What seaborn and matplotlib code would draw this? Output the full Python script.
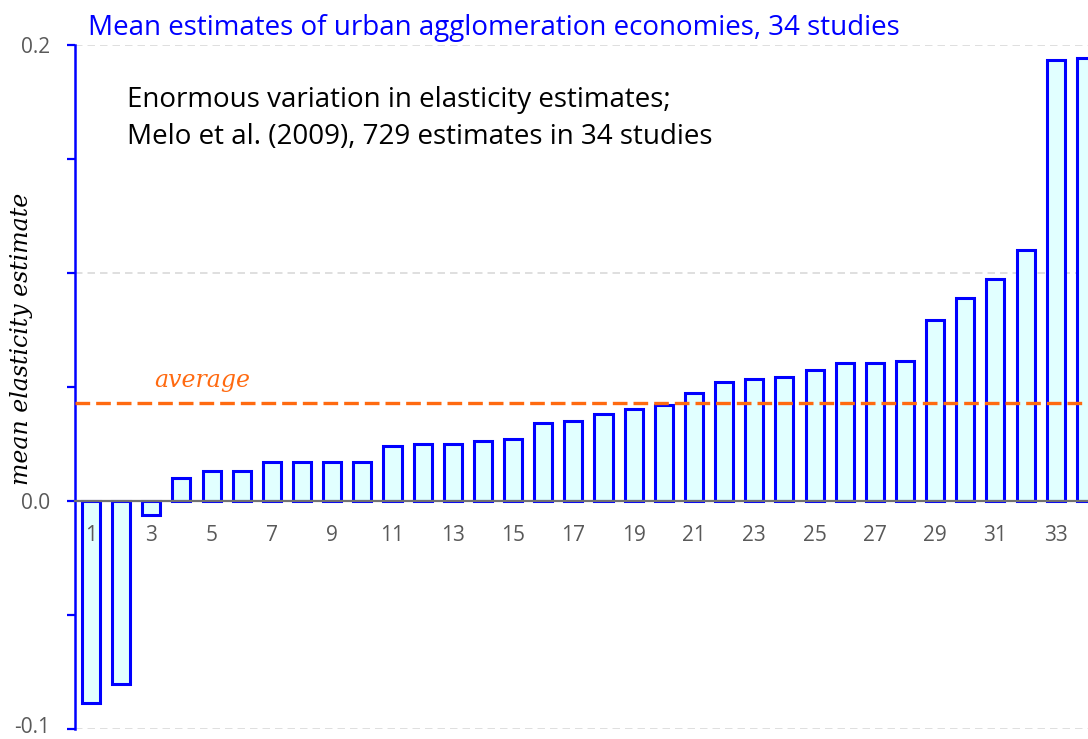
import numpy as np
import pandas as pd
import matplotlib.pyplot as plt
import matplotlib.transforms as mtransforms
import seaborn as sns

sns.set_style("white")
plt.rcParams["font.family"] = ["Open Sans", "DejaVu Sans"]

# mean elasticity estimate per study, sorted
studies = [str(i) for i in range(1, 35)]
estimates = [-0.0887, -0.0804, -0.0063, 0.0103, 0.0132, 0.0132, 0.0173, 0.0173,
             0.0173, 0.0173, 0.0241, 0.0251, 0.0251, 0.0261, 0.0270, 0.0341,
             0.0350, 0.0381, 0.0402, 0.0420, 0.0472, 0.0522, 0.0534, 0.0543,
             0.0573, 0.0604, 0.0604, 0.0613, 0.0794, 0.0892, 0.0972, 0.1101,
             0.1933, 0.1945]
average = 0.0432
ytick_values = [-0.1, 0.0, 0.1, 0.2]
ytick_labels = ["-0.1", "0.0", "", "0.2"]
xtick_labels = [s if int(s) % 2 == 1 else "" for s in studies]

df = pd.DataFrame({"study": studies, "estimate": estimates})

fig = plt.figure(figsize=(10.88, 7.39), dpi=100)
ax = fig.add_axes([75 / 1088, 10 / 739, 1013 / 1088, 684 / 739])

sns.barplot(data=df, x="study", y="estimate", order=studies, color="#E1FFFF",
            saturation=1, edgecolor="#0000FF", linewidth=2.2, width=0.6, ax=ax)
ax.set_axisbelow(False)

ax.set_xlim(-0.53, 33.07)
ax.set_ylim(-0.1, 0.2)

# grid
for v in ytick_values:
    ax.axhline(v, color="#D9D9D9", lw=1.2, ls=(0, (4.5, 3)), zorder=0)

# average line
ax.axhline(average, color="#FF6A10", lw=2.4, ls=(0, (4.4, 1.8)), zorder=5)
ax.text(2.1, average + 0.0095, "average", color="#FF6A10", fontsize=17,
        fontstyle="italic", family="DejaVu Serif", va="center", ha="left")

# spines
for s in ["top", "right"]:
    ax.spines[s].set_visible(False)
ax.spines["left"].set_color("#0000FF")
ax.spines["left"].set_linewidth(1.8)
ax.spines["bottom"].set_position(("data", 0))
ax.spines["bottom"].set_color("#707070")
ax.spines["bottom"].set_linewidth(1.6)
ax.spines["bottom"].set_zorder(6)

ax.set_yticks(ytick_values)
ax.set_yticklabels(ytick_labels)
ax.set_yticks([-0.05, 0.05, 0.15], minor=True)
ax.tick_params(axis="y", which="both", length=6, width=1.6, color="#0000FF",
               left=True, direction="out", labelsize=15, labelcolor="#595959", pad=12)
ax.set_xticks(range(len(studies)))
ax.set_xticklabels(xtick_labels)
ax.tick_params(axis="x", length=0, labelsize=15, labelcolor="#595959", pad=17)

# keep the bottom tick label inside the figure
lbl = ax.get_yticklabels()[0]
lbl.set_transform(lbl.get_transform() + mtransforms.ScaledTranslation(0, 3 / 72, fig.dpi_scale_trans))

ax.set_xlabel("")
ax.set_ylabel("mean elasticity estimate", fontsize=17, fontstyle="italic",
              family="DejaVu Serif", color="black")
ax.yaxis.set_label_coords(-0.041, 0.57)

fig.text(88 / 1088, 1 - 28 / 739, "Mean estimates of urban agglomeration economies, 34 studies",
         color="#0000FF", fontsize=20, va="center", ha="left")
fig.text(127 / 1088, 1 - 100 / 739, "Enormous variation in elasticity estimates;",
         color="black", fontsize=20, va="center", ha="left")
fig.text(127 / 1088, 1 - 137 / 739, "Melo et al. (2009), 729 estimates in 34 studies",
         color="black", fontsize=20, va="center", ha="left")

fig.savefig("out.png", dpi=100)
